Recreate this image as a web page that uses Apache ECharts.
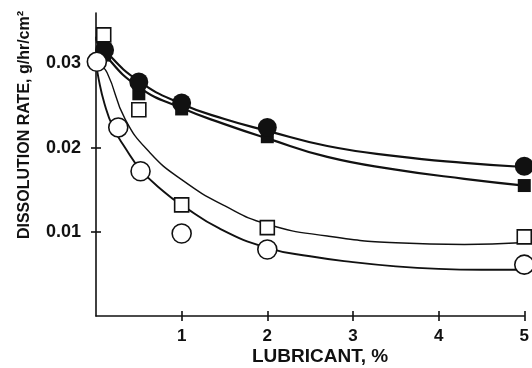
<!DOCTYPE html>
<html>
<head>
<meta charset="utf-8">
<script src="https://cdn.jsdelivr.net/npm/echarts@6/dist/echarts.min.js"></script>
<style>html,body{margin:0;padding:0;background:#fff}#c{width:532px;height:368px}</style>
</head>
<body>
<div id="c"></div>
<script>
// Axis ticks
var xTicks = [1, 2, 3, 4, 5];
var yTicks = [0.01, 0.02, 0.03];
var xTitle = 'LUBRICANT, %';
var yTitle = 'DISSOLUTION RATE, g/hr/cm\u00B2';

// Measured points (lubricant %, dissolution rate)
var filledCircles = [[0.1, 0.0316], [0.5, 0.0278], [1.0, 0.0253], [2.0, 0.0224], [5.0, 0.0178]];
var filledSquares = [[0.1, 0.0310], [0.5, 0.0264], [1.0, 0.0246], [2.0, 0.0213], [5.0, 0.0155]];
var openSquares   = [[0.09, 0.0334], [0.5, 0.0245], [1.0, 0.0132], [2.0, 0.0105], [5.0, 0.0094]];
var openCircles   = [[0.01, 0.0302], [0.26, 0.0224], [0.52, 0.0172], [1.0, 0.0098], [2.0, 0.0079], [5.0, 0.0061]];

// Hand-drawn fitted curves
var curveFilledCircles = [[0, 0.0332], [0.1, 0.0316], [0.5, 0.0279], [1.0, 0.0252], [1.5, 0.0234], [2.0, 0.0220], [2.7, 0.0202], [3.5, 0.0190], [4.3, 0.0182], [5.0, 0.0177]];
var curveFilledSquares = [[0, 0.0330], [0.1, 0.0311], [0.5, 0.0272], [1.0, 0.0247], [1.5, 0.0228], [2.0, 0.0211], [2.7, 0.0189], [3.5, 0.0174], [4.3, 0.0163], [5.0, 0.0155]];
var curveOpenSquares   = [[0.03, 0.0300], [0.13, 0.0289], [0.34, 0.0234], [0.63, 0.0194], [1.0, 0.0162], [1.5, 0.0131], [2.0, 0.0109], [2.7, 0.0095], [3.5, 0.0087], [4.3, 0.0085], [4.95, 0.0087]];
var curveOpenCircles   = [[0, 0.0302], [0.03, 0.0282], [0.1, 0.0252], [0.2, 0.0224], [0.34, 0.0200], [0.52, 0.0174], [0.8, 0.0147], [1.0, 0.0132], [1.44, 0.0104], [2.0, 0.0081], [2.5, 0.0071], [3.0, 0.0064], [3.5, 0.0059], [4.0, 0.0056], [4.5, 0.0055], [4.95, 0.0055]];

var FONT = '"Liberation Sans", Arial, Helvetica, sans-serif';
var INK = '#111';

var chart = echarts.init(document.getElementById('c'), null, {renderer: 'canvas'});

function lineSeries(data, width) {
  return {
    type: 'line', data: data, xAxisIndex: 0, yAxisIndex: 0,
    smooth: 0.5, showSymbol: false, symbol: 'none',
    lineStyle: {color: INK, width: width}, silent: true, z: 2, animation: false
  };
}
function scatterSeries(data, symbol, size, filled, z) {
  return {
    type: 'scatter', data: data, symbol: symbol, symbolSize: size, clip: false,
    itemStyle: filled ? {color: INK, borderColor: INK, borderWidth: 0, opacity: 1}
                      : {color: '#fff', borderColor: INK, borderWidth: 1.6, opacity: 1},
    z: z, silent: true, animation: false
  };
}

chart.setOption({
  backgroundColor: '#fff',
  animation: false,
  grid: {left: 96, right: 5, top: 13, bottom: 52, containLabel: false},
  xAxis: [
    {type: 'value', min: 0, max: 5, position: 'bottom',
     axisLine: {show: true, onZero: false, lineStyle: {color: INK, width: 1.6}},
     axisTick: {show: true, inside: false, length: 5, customValues: xTicks, lineStyle: {color: INK, width: 1.6}},
     axisLabel: {show: true, customValues: xTicks, margin: 12, color: INK, fontFamily: FONT, fontWeight: 'bold', fontSize: 17},
     splitLine: {show: false}},
    {type: 'value', min: 0, max: 5, position: 'bottom',
     axisLine: {show: false},
     axisTick: {show: true, inside: true, length: 5, customValues: xTicks, lineStyle: {color: INK, width: 1.6}},
     axisLabel: {show: false}, splitLine: {show: false}}
  ],
  yAxis: [
    {type: 'value', min: 0, max: 0.036, position: 'left',
     axisLine: {show: true, onZero: false, lineStyle: {color: INK, width: 1.6}},
     axisTick: {show: true, inside: false, length: 5, customValues: yTicks, lineStyle: {color: INK, width: 1.6}},
     axisLabel: {show: true, customValues: yTicks, margin: 15, color: INK, fontFamily: FONT, fontWeight: 'bold', fontSize: 18,
                 formatter: function (v) { return v.toFixed(2); }},
     splitLine: {show: false}},
    {type: 'value', min: 0, max: 0.036, position: 'left',
     axisLine: {show: false},
     axisTick: {show: true, inside: true, length: 5, customValues: yTicks, lineStyle: {color: INK, width: 1.6}},
     axisLabel: {show: false}, splitLine: {show: false}}
  ],
  graphic: [
    {type: 'text', x: 320, y: 357, style: {text: xTitle, fill: INK, font: 'bold 19px ' + FONT, textAlign: 'center', textVerticalAlign: 'middle'}},
    {type: 'text', x: 25, y: 125, rotation: Math.PI / 2, style: {text: yTitle, fill: INK, font: 'bold 16px ' + FONT, textAlign: 'center', textVerticalAlign: 'middle'}}
  ],
  series: [
    lineSeries(curveFilledCircles, 2.2),
    lineSeries(curveFilledSquares, 2.2),
    lineSeries(curveOpenSquares, 1.4),
    lineSeries(curveOpenCircles, 1.9),
    scatterSeries(filledSquares, 'rect', 13, true, 5),
    scatterSeries(filledCircles, 'circle', 19, true, 6),
    scatterSeries(openSquares, 'rect', 14, false, 7),
    scatterSeries(openCircles, 'circle', 19, false, 8)
  ]
});
</script>
</body>
</html>
